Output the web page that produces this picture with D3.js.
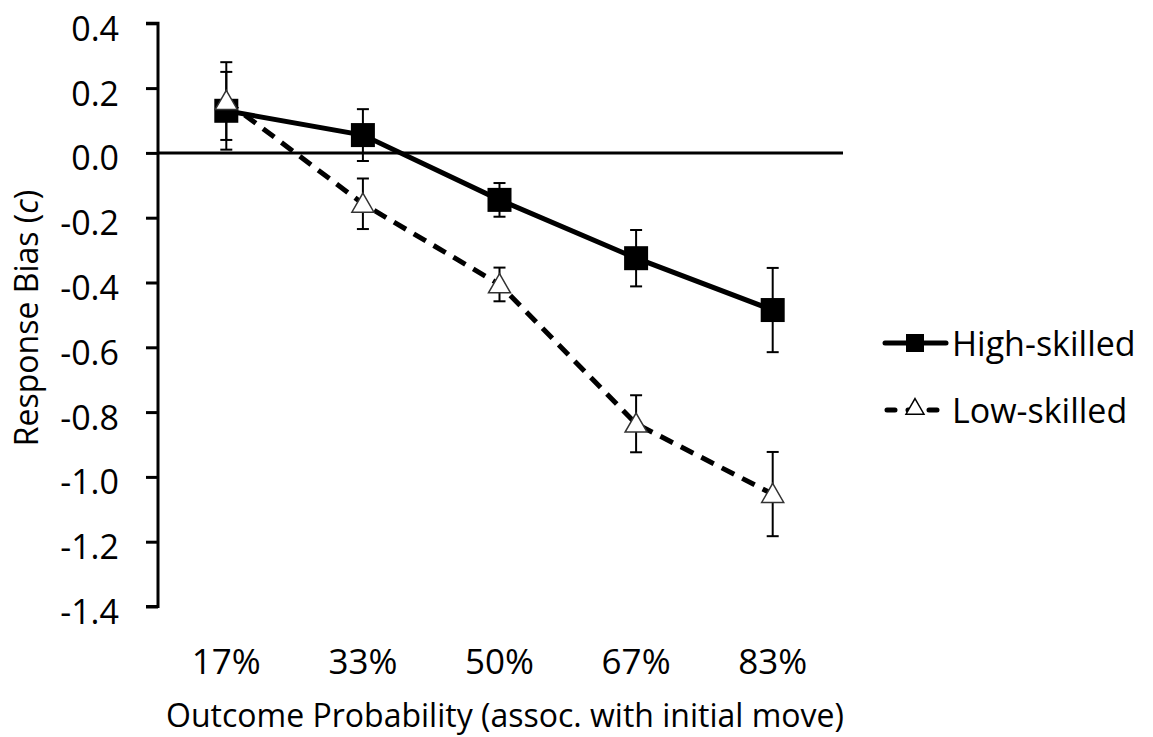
<!DOCTYPE html>
<html>
<head>
<meta charset="utf-8">
<script src="https://cdn.jsdelivr.net/npm/d3@7"></script>
<style>
  body { margin: 0; background: #fff; }
  text { font-family: "Open Sans", sans-serif; fill: #000; }
</style>
</head>
<body>
<div id="chart"></div>
<script>
let categories = ["17%", "33%", "50%", "67%", "83%"]
let highSkilled = [0.13, 0.055, -0.145, -0.325, -0.485]
let highErr = [0.12, 0.08, 0.052, 0.087, 0.13]
let lowSkilled = [0.16, -0.157, -0.406, -0.836, -1.053]
let lowErr = [0.12, 0.078, 0.052, 0.088, 0.13]
let yTicks = [0.4, 0.2, 0.0, -0.2, -0.4, -0.6, -0.8, -1.0, -1.2, -1.4]

function renderChart(){
  let width = 1153, height = 737

  let svg = d3.select("#chart")
    .append("svg")
    .attr("width", width)
    .attr("height", height)

  let x = d3.scaleBand()
    .domain(categories)
    .range([158, 841])

  let y = d3.scaleLinear()
    .domain([-1.4, 0.4])
    .range([606.5, 23.3])

  // y axis
  let yAxis = svg.append("g")
    .attr("transform", "translate(158,0)")
    .call(d3.axisLeft(y).tickValues(yTicks).tickSize(12).tickPadding(27)
      .tickFormat(d3.format(".1f")))
  yAxis.select(".domain").attr("stroke-width", 3).attr("d", `M-12,${y(0.4)}H0V${y(-1.4)}H-12`)
  yAxis.selectAll(".tick line").attr("stroke-width", 3)
  yAxis.selectAll(".tick text")
    .style("font-size", "34px")
    .attr("dy", "0.5em")
    .text(d => d3.format(".1f")(d).replace("−", "-"))

  // zero line
  svg.append("line")
    .attr("x1", 158).attr("x2", 843)
    .attr("y1", y(0)).attr("y2", y(0))
    .attr("stroke", "#000").attr("stroke-width", 3)

  // x labels
  svg.append("g")
    .selectAll("text")
    .data(categories)
    .enter()
    .append("text")
      .attr("x", d => x(d) + x.bandwidth()/2)
      .attr("y", 674)
      .style("text-anchor", "middle")
      .style("font-size", "35px")
      .text(d => d)

  svg.append("text")
    .attr("x", 505)
    .attr("y", 727)
    .style("text-anchor", "middle")
    .style("font-size", "32px")
    .text("Outcome Probability (assoc. with initial move)")

  let yTitle = svg.append("text")
    .attr("transform", "translate(38,318) rotate(-90)")
    .style("text-anchor", "middle")
    .style("font-size", "32px")
  yTitle.append("tspan").text("Response Bias (")
  yTitle.append("tspan").style("font-style", "italic").text("c")
  yTitle.append("tspan").text(")")

  let cx = d => x(d) + x.bandwidth()/2
  let tri = d3.symbol().type(d3.symbolTriangle).size(210)

  function drawSeries(values, errs, dashed, marker){
    let data = categories.map((c, i) => ({c: c, v: values[i], e: errs[i]}))
    let g = svg.append("g")

    let err = g.selectAll(".err").data(data).enter().append("g")
    err.append("line")
      .attr("x1", d => cx(d.c)).attr("x2", d => cx(d.c))
      .attr("y1", d => y(d.v + d.e)).attr("y2", d => y(d.v - d.e))
      .attr("stroke", "#000").attr("stroke-width", 2)
    err.selectAll(".cap").data(d => [d.v + d.e, d.v - d.e].map(v => ({c: d.c, v: v})))
      .enter().append("line")
      .attr("x1", d => cx(d.c) - 6).attr("x2", d => cx(d.c) + 6)
      .attr("y1", d => y(d.v)).attr("y2", d => y(d.v))
      .attr("stroke", "#000").attr("stroke-width", 2)

    g.append("path")
      .datum(data)
      .attr("fill", "none")
      .attr("stroke", "#000")
      .attr("stroke-width", 5)
      .attr("stroke-dasharray", dashed ? "14,9" : null)
      .attr("d", d3.line().x(d => cx(d.c)).y(d => y(d.v)))

    if(marker === "square"){
      g.selectAll(".m").data(data).enter().append("rect")
        .attr("x", d => cx(d.c) - 12).attr("y", d => y(d.v) - 12)
        .attr("width", 24).attr("height", 24)
        .attr("fill", "#000")
    } else {
      g.selectAll(".m").data(data).enter().append("path")
        .attr("d", tri)
        .attr("transform", d => `translate(${cx(d.c)},${y(d.v) + 2})`)
        .attr("fill", "#fff")
        .attr("stroke", "#333")
        .attr("stroke-width", 1.5)
    }
  }

  drawSeries(highSkilled, highErr, false, "square")
  drawSeries(lowSkilled, lowErr, true, "triangle")

  // legend
  let legend = svg.append("g")
  let hi = legend.append("g").attr("transform", "translate(0,343)")
  hi.append("line").attr("x1", 885).attr("x2", 946).attr("y1", 0).attr("y2", 0)
    .attr("stroke", "#000").attr("stroke-width", 5).attr("stroke-linecap", "round")
  hi.append("rect").attr("x", 906).attr("y", -9).attr("width", 18).attr("height", 18).attr("fill", "#000")
  hi.append("text").attr("x", 952).attr("y", 13).style("font-size", "34px").text("High-skilled")

  let lo = legend.append("g").attr("transform", "translate(0,410)")
  lo.append("line").attr("x1", 887).attr("x2", 946).attr("y1", 0).attr("y2", 0)
    .attr("stroke", "#000").attr("stroke-width", 5).attr("stroke-linecap", "round")
    .attr("stroke-dasharray", "8,13")
  lo.append("path").attr("d", d3.symbol().type(d3.symbolTriangle).size(140))
    .attr("transform", "translate(915,-1)")
    .attr("fill", "#fff").attr("stroke", "#000").attr("stroke-width", 1.5)
  lo.append("text").attr("x", 952).attr("y", 13).style("font-size", "34px").text("Low-skilled")
}

renderChart()
</script>
</body>
</html>
